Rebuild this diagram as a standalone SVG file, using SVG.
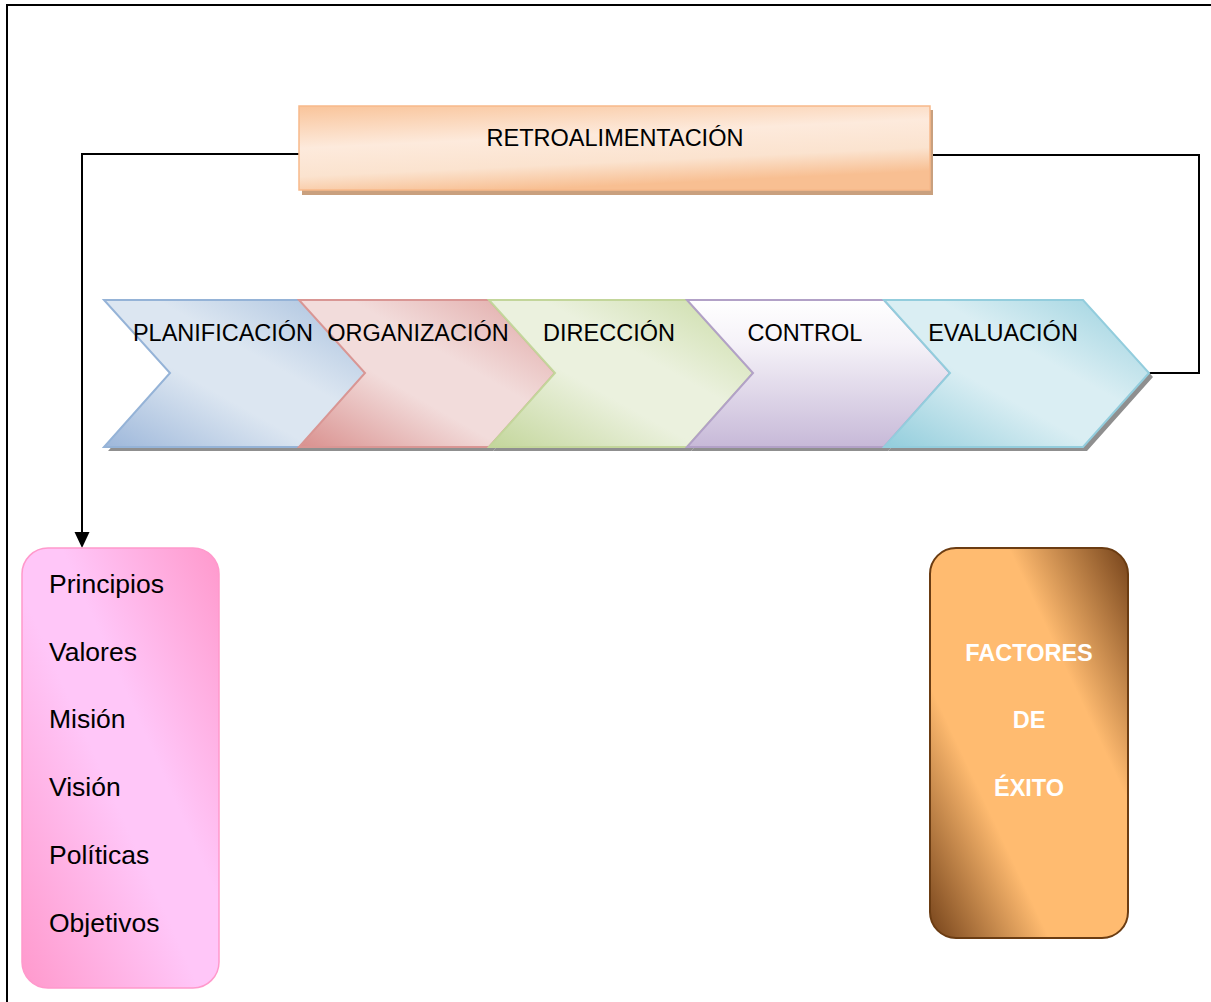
<svg xmlns="http://www.w3.org/2000/svg" width="1211" height="1002" viewBox="0 0 1211 1002">
  <style>
    .lbl { font-family: "Liberation Sans", Arial, sans-serif; font-size: 23.5px; fill: #000; }
    .item { font-family: "Liberation Sans", Arial, sans-serif; font-size: 26.5px; fill: #000; }
    .bold { font-family: "Liberation Sans", Arial, sans-serif; font-size: 23.5px; font-weight: bold; fill: #fff; }
    .wire { fill: none; stroke: #000; stroke-width: 2; }
    .shadow { fill: #8f8f8f; }
  </style>
  <defs>
    <linearGradient id="gRetro" x1="0" y1="0" x2="0.35" y2="1">
      <stop offset="0" stop-color="#f9c49a"/>
      <stop offset="0.45" stop-color="#fdeadc"/>
      <stop offset="0.75" stop-color="#fbe3cf"/>
      <stop offset="1" stop-color="#f8bf92"/>
    </linearGradient>
    <linearGradient id="gBlue" x1="0" y1="1" x2="1" y2="0">
      <stop offset="0" stop-color="#9db7da"/>
      <stop offset="0.4" stop-color="#dce6f1"/>
      <stop offset="0.6" stop-color="#dce6f1"/>
      <stop offset="1" stop-color="#a6bfdd"/>
    </linearGradient>
    <linearGradient id="gRed" x1="0" y1="1" x2="1" y2="0">
      <stop offset="0" stop-color="#d9908e"/>
      <stop offset="0.4" stop-color="#f2dcdb"/>
      <stop offset="0.6" stop-color="#f2dcdb"/>
      <stop offset="1" stop-color="#dfa4a2"/>
    </linearGradient>
    <linearGradient id="gGreen" x1="0" y1="1" x2="1" y2="0">
      <stop offset="0" stop-color="#c3d69b"/>
      <stop offset="0.4" stop-color="#ebf1de"/>
      <stop offset="0.6" stop-color="#ebf1de"/>
      <stop offset="1" stop-color="#c9dba4"/>
    </linearGradient>
    <linearGradient id="gPurple" x1="0" y1="0" x2="0" y2="1">
      <stop offset="0" stop-color="#ffffff"/>
      <stop offset="0.3" stop-color="#f5f2f8"/>
      <stop offset="1" stop-color="#c7b9d8"/>
    </linearGradient>
    <linearGradient id="gTeal" x1="0" y1="1" x2="1" y2="0">
      <stop offset="0" stop-color="#92cddc"/>
      <stop offset="0.4" stop-color="#daeef3"/>
      <stop offset="0.6" stop-color="#daeef3"/>
      <stop offset="1" stop-color="#98d0de"/>
    </linearGradient>
    <linearGradient id="gPink" x1="0" y1="1" x2="1" y2="0">
      <stop offset="0" stop-color="#ff99cc"/>
      <stop offset="0.45" stop-color="#ffc6f8"/>
      <stop offset="0.6" stop-color="#ffc6f8"/>
      <stop offset="1" stop-color="#ff99cc"/>
    </linearGradient>
    <linearGradient id="gBrown" gradientUnits="userSpaceOnUse" x1="866" y1="820" x2="1192" y2="666">
      <stop offset="0" stop-color="#6b3a14"/>
      <stop offset="0.32" stop-color="#ffbb70"/>
      <stop offset="0.68" stop-color="#ffbb70"/>
      <stop offset="1" stop-color="#6b3a14"/>
    </linearGradient>
  </defs>

  <rect width="1211" height="1002" fill="#fff"/>

  <!-- page frame -->
  <path d="M7,1002 V5 H1211" fill="none" stroke="#000" stroke-width="2"/>

  <!-- connectors -->
  <g id="connectors">
    <path class="wire" d="M299,154 H82 V533"/>
    <path d="M74.5,532 L89.5,532 L82,548 Z" fill="#000"/>
    <path class="wire" d="M931,155 H1199 V373 H1149"/>
  </g>

  <!-- feedback box -->
  <g id="retroalimentacion">
    <rect x="302" y="110" width="631" height="85" fill="#c9a07e"/>
    <rect x="299" y="106" width="631" height="84" fill="url(#gRetro)" stroke="#f7b98a" stroke-width="1.5"/>
    <text class="lbl" x="615" y="146" text-anchor="middle">RETROALIMENTACIÓN</text>
  </g>

  <!-- process chevrons -->
  <g id="planificacion">
    <polygon class="shadow" points="108,304 304,304 370,377 304,451 108,451 174,377"/>
    <polygon points="104,300 300,300 366,373 300,447 104,447 170,373" fill="url(#gBlue)" stroke="#95b3d7" stroke-width="2"/>
  </g>
  <g id="organizacion">
    <polygon class="shadow" points="303,304 493,304 559,377 493,451 303,451 369,377"/>
    <polygon points="299,300 489,300 555,373 489,447 299,447 365,373" fill="url(#gRed)" stroke="#d99694" stroke-width="2"/>
  </g>
  <g id="direccion">
    <polygon class="shadow" points="493,304 691,304 757,377 691,451 493,451 559,377"/>
    <polygon points="489,300 687,300 753,373 687,447 489,447 555,373" fill="url(#gGreen)" stroke="#c3d69b" stroke-width="2"/>
  </g>
  <g id="control">
    <polygon class="shadow" points="691,304 888,304 954,377 888,451 691,451 757,377"/>
    <polygon points="687,300 884,300 950,373 884,447 687,447 753,373" fill="url(#gPurple)" stroke="#b2a1c7" stroke-width="2"/>
  </g>
  <g id="evaluacion">
    <polygon class="shadow" points="888,304 1087,304 1153,377 1087,451 888,451 954,377" fill="#8ea9b3"/>
    <polygon points="884,300 1083,300 1149,373 1083,447 884,447 950,373" fill="url(#gTeal)" stroke="#93cddd" stroke-width="2"/>
  </g>

  <!-- chevron labels (drawn last so they sit over neighbouring shapes) -->
  <g id="chevron-labels">
    <text class="lbl" x="223" y="341" text-anchor="middle">PLANIFICACIÓN</text>
    <text class="lbl" x="418" y="341" text-anchor="middle">ORGANIZACIÓN</text>
    <text class="lbl" x="609" y="341" text-anchor="middle">DIRECCIÓN</text>
    <text class="lbl" x="805" y="341" text-anchor="middle">CONTROL</text>
    <text class="lbl" x="1003" y="341" text-anchor="middle">EVALUACIÓN</text>
  </g>

  <!-- foundations box -->
  <g id="fundamentos">
    <rect x="22" y="548" width="197" height="440" rx="26" fill="url(#gPink)" stroke="#ff99cc" stroke-width="1.5"/>
    <text class="item" x="49" y="593">Principios</text>
    <text class="item" x="49" y="661">Valores</text>
    <text class="item" x="49" y="728">Misión</text>
    <text class="item" x="49" y="796">Visión</text>
    <text class="item" x="49" y="864">Políticas</text>
    <text class="item" x="49" y="932">Objetivos</text>
  </g>

  <!-- success factors box -->
  <g id="factores">
    <rect x="930" y="548" width="198" height="390" rx="26" fill="url(#gBrown)" stroke="#6b3c12" stroke-width="2"/>
    <text class="bold" x="1029" y="661" text-anchor="middle">FACTORES</text>
    <text class="bold" x="1029" y="728" text-anchor="middle">DE</text>
    <text class="bold" x="1029" y="796" text-anchor="middle">ÉXITO</text>
  </g>
</svg>
